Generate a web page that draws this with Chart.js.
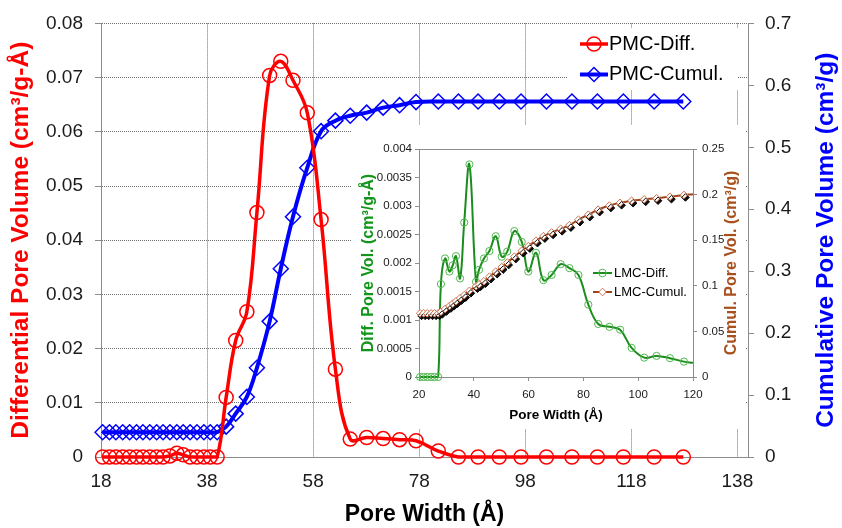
<!DOCTYPE html>
<html>
<head>
<meta charset="utf-8">
<script src="https://cdn.jsdelivr.net/npm/chart.js@4.4.1/dist/chart.umd.min.js"></script>
<style>
  html, body { margin: 0; padding: 0; background: #fff; }
  #wrap { position: relative; width: 842px; height: 528px; overflow: hidden; }
  #main { position: absolute; left: 0; top: 0; }
  #inset { position: absolute; left: 352px; top: 125px; background: #fff; }
</style>
</head>
<body>
<div id="wrap">
  <canvas id="main" width="842" height="528"></canvas>
  <canvas id="inset" width="393" height="304"></canvas>
</div>
<script>
// Main chart — PMC
const poreWidth = [18.3, 19.6, 20.8, 22.1, 23.4, 24.7, 25.9, 27.2, 28.5, 29.7, 31.0, 32.3, 33.5, 34.8, 36.1, 37.4, 38.6, 39.9,
  41.6, 43.4, 45.5, 47.4, 49.8, 51.9, 54.2, 56.9, 59.5, 62.2, 65.0, 68.1, 71.2, 74.3, 77.4,
  81.6, 85.4, 89.1, 93.1, 97.2, 102.0, 106.8, 111.6, 116.5, 122.3, 127.8];
const pmcDiff = [0, 0, 0, 0, 0, 0, 0, 0, 0, 0, 0.0002, 0.0007, 0.0004, 0, 0, 0, 0, 0,
  0.011, 0.0215, 0.0268, 0.0451, 0.0704, 0.073, 0.0695, 0.0635, 0.0438, 0.0162, 0.0033, 0.0036, 0.0034, 0.0032, 0.003,
  0.0011, 0, 0, 0, 0, 0, 0, 0, 0, 0, 0];
const pmcCumul = [0.04, 0.04, 0.04, 0.04, 0.04, 0.04, 0.04, 0.04, 0.04, 0.04, 0.04, 0.04, 0.04, 0.04, 0.04, 0.04, 0.04, 0.04,
  0.049, 0.07, 0.097, 0.144, 0.219, 0.304, 0.388, 0.467, 0.526, 0.543, 0.551, 0.556, 0.564, 0.568, 0.573,
  0.574, 0.574, 0.574, 0.574, 0.574, 0.574, 0.574, 0.574, 0.574, 0.574, 0.574];
const xTicks = [18, 38, 58, 78, 98, 118, 138];
const xTickLabels = ['18', '38', '58', '78', '98', '118', '138'];
const diffTicks = [0, 0.01, 0.02, 0.03, 0.04, 0.05, 0.06, 0.07, 0.08];
const diffTickLabels = ['0', '0.01', '0.02', '0.03', '0.04', '0.05', '0.06', '0.07', '0.08'];
const cumulTicks = [0, 0.1, 0.2, 0.3, 0.4, 0.5, 0.6, 0.7];
const cumulTickLabels = ['0', '0.1', '0.2', '0.3', '0.4', '0.5', '0.6', '0.7'];

// Inset — LMC
const lmcWidth = [20.4, 21.7, 23.0, 24.4, 25.7, 27.0, 28.0, 29.5, 31.1, 32.3, 33.5, 35.0, 36.5, 38.4,
  40.8, 41.9, 43.7, 45.7, 48.0, 50.2, 52.2, 54.8, 57.5, 59.9, 62.7, 65.4, 68.4, 71.7, 74.9, 78.2,
  81.8, 85.4, 89.5, 93.4, 97.6, 102.2, 106.7, 111.6, 116.7, 120];
const lmcDiff = [0, 0, 0, 0, 0, 0, 0.00163, 0.00208, 0.00185, 0.00196, 0.00212, 0.00173, 0.00271, 0.00373,
  0.00167, 0.00188, 0.00208, 0.00221, 0.00247, 0.00211, 0.0022, 0.00256, 0.00237, 0.00185, 0.00218, 0.0017, 0.00179, 0.00198, 0.00191, 0.00179,
  0.00127, 0.00093, 0.00088, 0.00083, 0.00051, 0.00034, 0.00037, 0.00033, 0.00027, 0.00025];
const lmcCumul = [0.0698, 0.0698, 0.0698, 0.0698, 0.0698, 0.0698, 0.0715, 0.0745, 0.0778, 0.0805, 0.083, 0.0865, 0.0898, 0.0945,
  0.0995, 0.1015, 0.105, 0.11, 0.1155, 0.1205, 0.1255, 0.132, 0.1385, 0.1435, 0.1495, 0.1545, 0.1585, 0.1625, 0.1665, 0.1725,
  0.178, 0.1835, 0.188, 0.191, 0.1933, 0.1948, 0.196, 0.1977, 0.1996, 0.2005];
const lmcXTicks = [20, 40, 60, 80, 100, 120];
const lmcXTickLabels = ['20', '40', '60', '80', '100', '120'];
const lmcDiffTicks = [0, 0.0005, 0.001, 0.0015, 0.002, 0.0025, 0.003, 0.0035, 0.004];
const lmcDiffTickLabels = ['0', '0.0005', '0.001', '0.0015', '0.002', '0.0025', '0.003', '0.0035', '0.004'];
const lmcCumulTicks = [0, 0.05, 0.1, 0.15, 0.2, 0.25];
const lmcCumulTickLabels = ['0', '0.05', '0.1', '0.15', '0.2', '0.25'];

const FONT = 'Arial, "Liberation Sans", sans-serif';
Chart.defaults.font.family = FONT;

const pts = (xs, ys) => xs.map((x, i) => ({ x, y: ys[i] }));
const fixTicks = (vals) => (s) => { s.ticks = vals.map(v => ({ value: v })); };

// Legend drawn inside the plot, with optional white box behind it
function makeLegend(cfg) {
  return {
    id: 'boxLegend',
    beforeDatasetsDraw(chart) {
      const ctx = chart.ctx;
      ctx.save();
      if (cfg.box) {
        ctx.fillStyle = '#ffffff';
        ctx.fillRect(cfg.box[0], cfg.box[1], cfg.box[2], cfg.box[3]);
      }
      ctx.font = cfg.font;
      ctx.textBaseline = 'middle';
      cfg.items.forEach((it, i) => {
        const ln = chart.data.datasets[it.line];
        const mk = chart.data.datasets[it.mark];
        const y = cfg.y + i * cfg.gap;
        ctx.setLineDash([]);
        ctx.strokeStyle = ln.borderColor;
        ctx.lineWidth = ln.borderWidth;
        ctx.beginPath(); ctx.moveTo(cfg.x, y); ctx.lineTo(cfg.x + cfg.len, y); ctx.stroke();
        ctx.fillStyle = mk.pointBackgroundColor;
        ctx.strokeStyle = mk.pointBorderColor;
        ctx.lineWidth = mk.pointBorderWidth;
        Chart.helpers.drawPoint(ctx, { pointStyle: mk.pointStyle, radius: cfg.radius, borderWidth: mk.pointBorderWidth, rotation: 0 }, cfg.x + cfg.len / 2, y);
        ctx.fillStyle = '#000';
        ctx.fillText(ln.label, cfg.x + cfg.len + cfg.textGap, y);
      });
      ctx.restore();
    }
  };
}

// Right-hand axis title that reads bottom-to-top, like the left one
function sideTitle(cfg) {
  return {
    id: 'sideTitle',
    afterDraw(chart) {
      const ctx = chart.ctx;
      const a = chart.chartArea;
      ctx.save();
      ctx.translate(cfg.x, (a.top + a.bottom) / 2);
      ctx.rotate(-Math.PI / 2);
      ctx.font = cfg.font;
      ctx.fillStyle = cfg.color;
      ctx.textAlign = 'center';
      ctx.textBaseline = 'middle';
      ctx.fillText(cfg.text, 0, 0);
      ctx.restore();
    }
  };
}

// Black drop shadow under the LMC-Cumul markers
const markerShadow = {
  id: 'markerShadow',
  beforeDatasetDraw(chart, args) {
    if (!chart.data.datasets[args.index].shadow) return;
    const ctx = chart.ctx;
    ctx.save();
    ctx.shadowColor = 'rgba(0,0,0,0.95)';
    ctx.shadowOffsetX = 1.5;
    ctx.shadowOffsetY = 2.5;
    ctx.shadowBlur = 0;
  },
  afterDatasetDraw(chart, args) {
    if (chart.data.datasets[args.index].shadow) chart.ctx.restore();
  }
};

const DOTS = [1, 1];
const GRID = '#6e6e6e';
const AXIS = '#8c8c8c';

new Chart(document.getElementById('main'), {
  type: 'line',
  data: {
    datasets: [
      { label: 'PMC-Diff.', data: pts(poreWidth, pmcDiff), yAxisID: 'yDiff',
        borderColor: '#ff0000', borderWidth: 3.5, tension: 0.4, clip: false,
        pointStyle: 'circle', pointRadius: 7, pointBorderWidth: 1.5,
        pointBorderColor: '#ff0000', pointBackgroundColor: 'rgba(0,0,0,0)' },
      { label: 'PMC-Cumul.', data: pts(poreWidth, pmcCumul), yAxisID: 'yCum',
        borderColor: '#0000ff', borderWidth: 4, tension: 0.4, clip: false,
        pointStyle: 'rectRot', pointRadius: 7.5, pointBorderWidth: 1.5,
        pointBorderColor: '#0000ff', pointBackgroundColor: 'rgba(0,0,0,0)' },
    ],
  },
  options: {
    responsive: false,
    animation: false,
    events: [],
    devicePixelRatio: 1,
    layout: { padding: { top: 19, left: 0, right: 0, bottom: 0 } },
    plugins: { legend: { display: false }, tooltip: { enabled: false } },
    scales: {
      x: {
        type: 'linear', min: 18, max: 140,
        afterBuildTicks: fixTicks(xTicks),
        afterFit: s => { s.height = 71; },
        ticks: { callback: (v, i) => xTickLabels[i], autoSkip: false, maxRotation: 0,
          font: { size: 19 }, color: '#1a1a1a', padding: 13 },
        grid: { color: GRID, drawTicks: false },
        border: { color: AXIS, dash: DOTS },
        title: { display: true, text: 'Pore Width (Å)', color: '#000',
          font: { size: 23, weight: 'bold' }, padding: { top: 0, bottom: 0 } },
      },
      yDiff: {
        type: 'linear', position: 'left', min: 0, max: 0.08,
        afterBuildTicks: fixTicks(diffTicks),
        afterFit: s => { s.width = 101; },
        ticks: { callback: (v, i) => diffTickLabels[i], font: { size: 19 }, color: '#1a1a1a', padding: 12 },
        grid: { color: GRID, tickLength: 6, tickColor: AXIS },
        border: { color: AXIS, dash: DOTS },
        title: { display: true, text: 'Differential Pore Volume (cm³/g-Å)', color: '#ff0000',
          font: { size: 24.5, weight: 'bold' }, padding: { top: 7, bottom: 0 } },
      },
      yCum: {
        type: 'linear', position: 'right', min: 0, max: 0.7,
        afterBuildTicks: fixTicks(cumulTicks),
        afterFit: s => { s.width = 94; },
        ticks: { callback: (v, i) => cumulTickLabels[i], font: { size: 19 }, color: '#1a1a1a', padding: 11 },
        grid: { drawOnChartArea: false, tickLength: 6, color: AXIS },
        border: { color: AXIS },
      },
    },
  },
  plugins: [
    makeLegend({
      box: [567, 28, 171, 62], x: 580, y: 44, gap: 30.5, len: 28, radius: 7, textGap: 1,
      font: '20px ' + FONT,
      items: [{ line: 0, mark: 0 }, { line: 1, mark: 1 }],
    }),
    sideTitle({ text: 'Cumulative Pore Volume (cm³/g)', color: '#0000ff', x: 826, font: 'bold 24.5px ' + FONT }),
  ],
});

const lastMarkerHidden = r => ctx => (ctx.dataIndex === lmcWidth.length - 1 ? 0 : r);

new Chart(document.getElementById('inset'), {
  type: 'line',
  data: {
    datasets: [
      { label: 'LMC-Cumul.', data: pts(lmcWidth, lmcCumul), yAxisID: 'yCum', showLine: false, shadow: true,
        clip: false, pointStyle: 'rectRot', pointRadius: lastMarkerHidden(3.8), pointBorderWidth: 1,
        pointBorderColor: '#d0704a', pointBackgroundColor: '#ffffff' },
      { label: 'LMC-Cumul.', data: pts(lmcWidth, lmcCumul), yAxisID: 'yCum',
        borderColor: '#a0441c', borderWidth: 2, tension: 0.4, pointRadius: 0 },
      { label: 'LMC-Diff.', data: pts(lmcWidth, lmcDiff), yAxisID: 'yDiff',
        borderColor: '#1c8c1c', borderWidth: 2, tension: 0.4, clip: false,
        pointStyle: 'circle', pointRadius: lastMarkerHidden(3.6), pointBorderWidth: 1,
        pointBorderColor: '#4fb84f', pointBackgroundColor: 'rgba(0,0,0,0)' },
    ],
  },
  options: {
    responsive: false,
    animation: false,
    events: [],
    devicePixelRatio: 1,
    layout: { padding: { top: 24, left: 0, right: 0, bottom: 0 } },
    plugins: { legend: { display: false }, tooltip: { enabled: false } },
    scales: {
      x: {
        type: 'linear', min: 20, max: 120,
        afterBuildTicks: fixTicks(lmcXTicks),
        afterFit: s => { s.height = 52; },
        ticks: { callback: (v, i) => lmcXTickLabels[i], autoSkip: false, maxRotation: 0,
          font: { size: 11.5 }, color: '#1a1a1a', padding: 7 },
        grid: { drawOnChartArea: false, tickLength: 4, color: AXIS },
        border: { color: AXIS },
        title: { display: true, text: 'Pore Width (Å)', color: '#000',
          font: { size: 13.5, weight: 'bold' }, padding: { top: 0, bottom: 6 } },
      },
      yDiff: {
        type: 'linear', position: 'left', min: 0, max: 0.004,
        afterBuildTicks: fixTicks(lmcDiffTicks),
        afterFit: s => { s.width = 67; },
        ticks: { callback: (v, i) => lmcDiffTickLabels[i], font: { size: 11.5 }, color: '#1a1a1a', padding: 3 },
        grid: { color: c => (c.tick && c.tick.value === 0.004 ? AXIS : 'rgba(0,0,0,0)'), tickLength: 4, tickColor: AXIS },
        border: { color: AXIS },
        title: { display: true, text: 'Diff. Pore Vol. (cm³/g-Å)', color: '#12961a',
          font: { size: 16, weight: 'bold' }, padding: { top: 7, bottom: 0 } },
      },
      yCum: {
        type: 'linear', position: 'right', min: 0, max: 0.25,
        afterBuildTicks: fixTicks(lmcCumulTicks),
        afterFit: s => { s.width = 52; },
        ticks: { callback: (v, i) => lmcCumulTickLabels[i], font: { size: 11.5 }, color: '#1a1a1a', padding: 5 },
        grid: { drawOnChartArea: false, tickLength: 4, color: AXIS },
        border: { color: AXIS },
      },
    },
  },
  plugins: [
    markerShadow,
    makeLegend({
      x: 241, y: 148, gap: 19, len: 19, radius: 3.8, textGap: 2,
      font: '13px ' + FONT,
      items: [{ line: 2, mark: 2 }, { line: 1, mark: 0 }],
    }),
    sideTitle({ text: 'Cumul. Pore Vol. (cm³/g)', color: '#a8501e', x: 380, font: 'bold 16px ' + FONT }),
  ],
});
</script>
</body>
</html>
